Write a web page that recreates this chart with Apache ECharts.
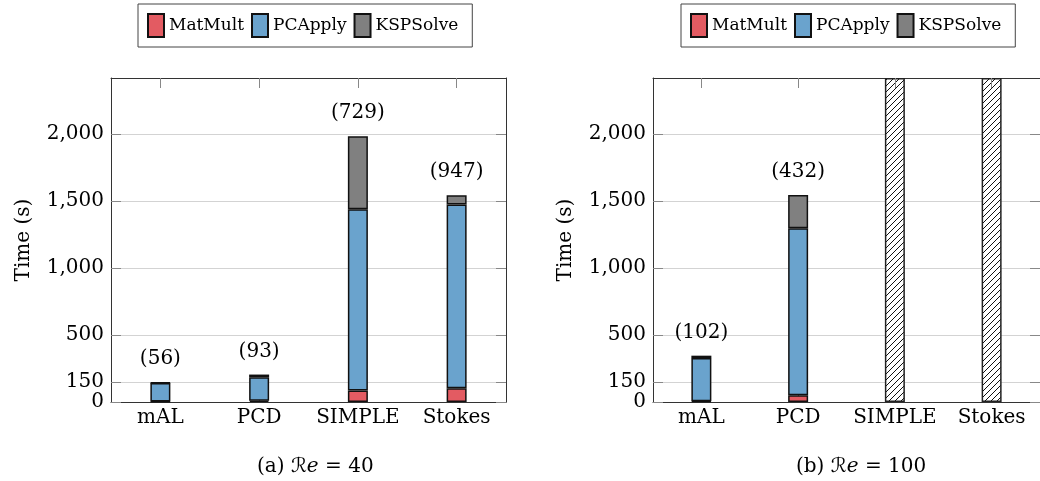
<!DOCTYPE html>
<html>
<head>
<meta charset="utf-8">
<script src="https://cdn.jsdelivr.net/npm/echarts@6/dist/echarts.min.js"></script>
<style>
html,body{margin:0;padding:0;background:#fff;}
#chart{width:1040px;height:481px;}
</style>
</head>
<body>
<div id="chart"></div>
<script>
// ---- data ----
const categories = ['mAL', 'PCD', 'SIMPLE', 'Stokes'];
const yTicks = [0, 150, 500, 1000, 1500, 2000];
const yMax = 2420;
const seriesNames = ['MatMult', 'PCApply', 'KSPSolve'];

// (a) Re = 40
const matMult40 = [4, 10, 85, 102];
const pcApply40 = [138, 175, 1355, 1373];
const kspSolve40 = [3, 20, 545, 69];
const iters40 = [56, 93, 729, 947];

// (b) Re = 100
const matMult100 = [6, 50, null, null];
const pcApply100 = [322, 1248, null, null];
const kspSolve100 = [18, 248, null, null];
const iters100 = [102, 432, null, null];
const failed100 = [null, null, 2420, 2420]; // hatched: no result

const captions = ['(a) ', '(b) '];
const reValues = ['40', '100'];

// ---- style ----
const FONT = 'DejaVu Serif';
const colors = ['#e35b62', '#6aa3cd', '#808080'];
const frameColor = '#333';
const tickColor = '#888';

function hatchPattern() {
  const c = document.createElement('canvas');
  c.width = 6; c.height = 6;
  const g = c.getContext('2d');
  g.fillStyle = '#fff';
  g.fillRect(0, 0, 6, 6);
  g.strokeStyle = '#111';
  g.lineWidth = 1;
  g.beginPath();
  g.moveTo(-1, 7); g.lineTo(7, -1);
  g.moveTo(-1, 1); g.lineTo(1, -1);
  g.moveTo(5, 7); g.lineTo(7, 5);
  g.stroke();
  return { image: c, repeat: 'repeat' };
}

const PLOT_H = 324;
const grids = [
  { left: 111, top: 78, width: 395, height: PLOT_H },
  { left: 653, top: 78, width: 395, height: PLOT_H }
];

const xAxes = [], yAxes = [];
grids.forEach((g, i) => {
  // bottom axis with labels
  xAxes.push({
    type: 'category', gridIndex: i, data: categories, position: 'bottom',
    axisLine: { show: true, onZero: false, lineStyle: { color: frameColor, width: 1 } },
    axisTick: { show: true, interval: 0, inside: true, alignWithLabel: true, length: 8, lineStyle: { color: tickColor } },
    axisLabel: { interval: 0, color: '#000', fontFamily: FONT, fontSize: 20, margin: 6 },
    splitLine: { show: false }
  });
  // top frame line
  xAxes.push({
    type: 'category', gridIndex: i, data: categories, position: 'top',
    axisLine: { show: true, onZero: false, lineStyle: { color: frameColor, width: 1 } },
    axisTick: { show: false },
    axisLabel: { show: false },
    splitLine: { show: false }
  });
  // top ticks pointing into the plot (bottom-type axis shifted to the top)
  xAxes.push({
    type: 'category', gridIndex: i, data: categories, position: 'bottom', offset: -PLOT_H, z: 5,
    axisLine: { show: false, onZero: false },
    axisTick: { show: true, interval: 0, inside: false, alignWithLabel: true, length: 10, lineStyle: { color: tickColor } },
    axisLabel: { show: false },
    splitLine: { show: false }
  });
  yAxes.push({
    type: 'value', gridIndex: i, min: 0, max: yMax, position: 'left',
    name: 'Time (s)', nameLocation: 'middle', nameGap: 77,
    nameTextStyle: { color: '#000', fontFamily: FONT, fontSize: 20 },
    axisLine: { show: true, onZero: false, lineStyle: { color: frameColor, width: 1 } },
    axisTick: { show: true, inside: true, length: 10, customValues: yTicks, lineStyle: { color: tickColor } },
    axisLabel: {
      customValues: yTicks, color: '#000', fontFamily: FONT, fontSize: 20, margin: 7,
      formatter: v => v.toLocaleString('en-US')
    },
    splitLine: { show: true, lineStyle: { color: '#d3d3d3', width: 1 } }
  });
  yAxes.push({
    type: 'value', gridIndex: i, min: 0, max: yMax, position: 'right',
    axisLine: { show: true, onZero: false, lineStyle: { color: frameColor, width: 1 } },
    axisTick: { show: true, inside: true, length: 10, customValues: yTicks, lineStyle: { color: tickColor } },
    axisLabel: { show: false },
    splitLine: { show: false }
  });
});

const datasets = [
  { mm: matMult40, pc: pcApply40, ksp: kspSolve40, it: iters40, failed: null },
  { mm: matMult100, pc: pcApply100, ksp: kspSolve100, it: iters100, failed: failed100 }
];

const series = [];
datasets.forEach((d, i) => {
  const vals = [d.mm, d.pc, d.ksp];
  vals.forEach((v, k) => {
    const s = {
      name: seriesNames[k], type: 'bar', xAxisIndex: 3 * i, yAxisIndex: 2 * i,
      stack: 'total' + i, data: v, barWidth: 20, barGap: '-100%',
      itemStyle: { color: colors[k], borderColor: '#111', borderWidth: 1.5 },
      emphasis: { disabled: true }
    };
    if (k === 2) {
      s.label = {
        show: true, position: 'top', distance: 13, color: '#000',
        fontFamily: FONT, fontSize: 20,
        formatter: p => d.it[p.dataIndex] == null ? '' : '(' + d.it[p.dataIndex] + ')'
      };
    }
    series.push(s);
  });
  if (d.failed) {
    series.push({
      name: 'failed', type: 'bar', xAxisIndex: 3 * i, yAxisIndex: 2 * i,
      data: d.failed, barWidth: 20, barGap: '-100%',
      itemStyle: { color: hatchPattern(), borderColor: '#222', borderWidth: 1.5 },
      emphasis: { disabled: true }
    });
  }
});

const legendText = { color: '#000', fontFamily: FONT, fontSize: 17 };
const legends = [138, 681].map((left, i) => ({
  left: left, top: 4, orient: 'horizontal',
  data: seriesNames.map(n => ({ name: n, icon: 'rect' })),
  icon: 'rect',
  itemWidth: 16, itemHeight: 23, itemGap: 7,
  padding: [9, 14, 9, 9],
  borderColor: '#444', borderWidth: 1,
  selectedMode: false,
  textStyle: legendText
}));

const captionCenters = [257, 796];
const graphics = captionCenters.map((cx, i) => ({
  type: 'text', left: cx, top: 457,
  style: {
    text: '{n|' + captions[i] + '}{r|ℛ}{i|e}{n| = ' + reValues[i] + '}',
    align: 'center',
    rich: {
      n: { fontFamily: FONT, fontSize: 20, fill: '#000' },
      r: { fontFamily: FONT + ', DejaVu Sans', fontSize: 20, fill: '#000' },
      i: { fontFamily: FONT, fontSize: 20, fontStyle: 'italic', fill: '#000' }
    }
  }
}));

const chart = echarts.init(document.getElementById('chart'), null, { renderer: 'canvas' });
chart.setOption({
  animation: false,
  backgroundColor: '#fff',
  textStyle: { fontFamily: FONT },
  grid: grids,
  xAxis: xAxes,
  yAxis: yAxes,
  legend: legends,
  series: series,
  graphic: graphics
});
</script>
</body>
</html>
